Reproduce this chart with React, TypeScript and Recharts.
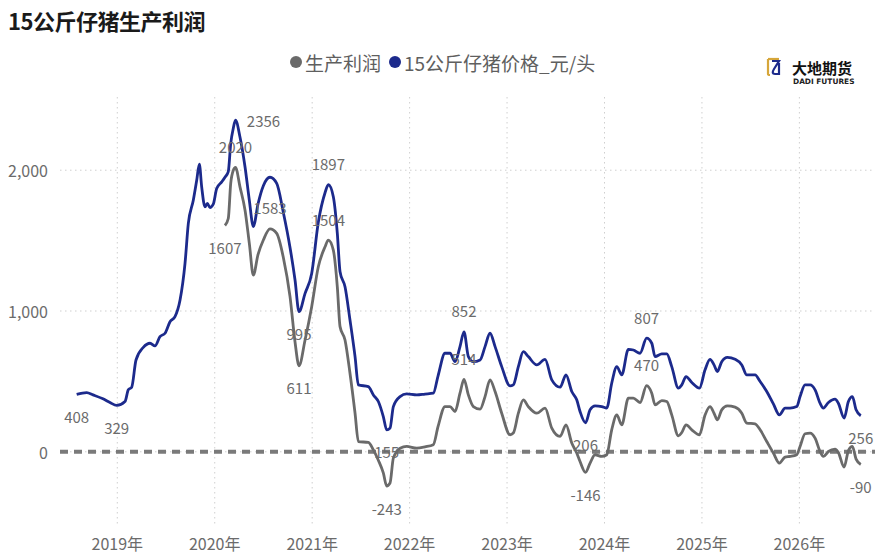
import React from 'react';
import { LineChart, Line, XAxis, YAxis, CartesianGrid, ReferenceLine, LabelList } from 'recharts';

// time axis in decimal years (weekly series, sampled)
const dates = [
  2018.583, 2018.686, 2018.751, 2018.853, 2018.925, 2018.994, 2019.079, 2019.113, 2019.148, 2019.192,
  2019.267, 2019.336, 2019.387, 2019.438, 2019.490, 2019.541, 2019.592, 2019.644, 2019.695, 2019.729,
  2019.780, 2019.815, 2019.842, 2019.866, 2019.900, 2019.924, 2019.951, 2019.985, 2020.020, 2020.072,
  2020.105, 2020.139, 2020.164, 2020.191, 2020.213, 2020.259, 2020.311, 2020.355, 2020.396, 2020.444,
  2020.499, 2020.567, 2020.636, 2020.704, 2020.773, 2020.824, 2020.865, 2020.927, 2020.995, 2021.063,
  2021.132, 2021.166, 2021.217, 2021.258, 2021.286, 2021.337, 2021.388, 2021.440, 2021.474, 2021.576,
  2021.628, 2021.679, 2021.730, 2021.765, 2021.799, 2021.833, 2021.902, 2021.970, 2022.073, 2022.158,
  2022.243, 2022.292, 2022.363, 2022.415, 2022.466, 2022.517, 2022.558, 2022.603, 2022.654, 2022.723,
  2022.774, 2022.825, 2022.877, 2022.945, 2023.031, 2023.064, 2023.116, 2023.167, 2023.218, 2023.305,
  2023.390, 2023.459, 2023.544, 2023.605, 2023.664, 2023.715, 2023.749, 2023.805, 2023.852, 2023.903,
  2023.972, 2024.023, 2024.074, 2024.126, 2024.177, 2024.245, 2024.296, 2024.365, 2024.432, 2024.485,
  2024.519, 2024.588, 2024.639, 2024.690, 2024.758, 2024.793, 2024.837, 2024.896, 2024.974, 2025.032,
  2025.083, 2025.124, 2025.158, 2025.203, 2025.261, 2025.340, 2025.409, 2025.460, 2025.545, 2025.597,
  2025.665, 2025.733, 2025.795, 2025.853, 2025.904, 2025.973, 2026.007, 2026.058, 2026.110, 2026.161,
  2026.212, 2026.246, 2026.298, 2026.366, 2026.400, 2026.459, 2026.503, 2026.544, 2026.582, 2026.630,
];

// 15公斤仔猪价格_元/头
const pigletPrice = [
  408, 420, 404, 376, 350, 329, 357, 440, 459, 652,
  742, 771, 752, 818, 842, 924, 960, 1078, 1338, 1622,
  1787, 1929, 2043, 1882, 1740, 1764, 1735, 1759, 1870, 1917,
  1950, 1990, 2189, 2300, 2356, 2236, 2023, 1787, 1600, 1760,
  1890, 1950, 1906, 1700, 1450, 1220, 995, 1125, 1267, 1630,
  1840, 1897, 1811, 1551, 1279, 1172, 936, 676, 475, 463,
  404, 357, 250, 155, 168, 321, 392, 411, 404, 410,
  416, 540, 700, 700, 640, 747, 852, 676, 640, 652,
  747, 842, 747, 605, 468, 475, 605, 711, 676, 617,
  657, 511, 459, 546, 428, 369, 286, 206, 298, 326,
  321, 310, 487, 605, 546, 728, 723, 700, 807, 771,
  676, 695, 695, 605, 452, 475, 534, 492, 452, 582,
  657, 617, 570, 640, 671, 657, 617, 546, 546, 499,
  428, 340, 262, 310, 310, 321, 392, 475, 475, 440,
  345, 310, 350, 374, 345, 239, 357, 392, 298, 256,
];

// 生产利润
const profit = [
  null, null, null, null, null, null, null, null, null, null,
  null, null, null, null, null, null, null, null, null, null,
  null, null, null, null, null, null, null, null, null, null,
  1607, 1657, 1906, 2000, 2020, 1882, 1716, 1480, 1255, 1400,
  1504, 1583, 1551, 1380, 1100, 780, 611, 794, 1031, 1314,
  1456, 1504, 1433, 1172, 889, 794, 558, 274, 73, 66,
  14, -60, -150, -243, -222, -45, 26, 38, 26, 35,
  50, 180, 321, 321, 286, 416, 514, 404, 321, 303,
  392, 511, 428, 274, 121, 133, 274, 369, 321, 274,
  310, 168, 109, 191, 62, -9, -69, -146, -80, -21,
  -33, -21, 156, 262, 191, 381, 381, 350, 470, 416,
  333, 364, 357, 262, 113, 137, 191, 156, 121, 262,
  321, 274, 227, 298, 326, 317, 274, 204, 199, 156,
  73, -9, -80, -38, -33, -21, 38, 128, 133, 97,
  2, -33, 2, 19, -5, -109, 9, 38, -52, -90,
];

const yearTicks = [2019, 2020, 2021, 2022, 2023, 2024, 2025, 2026];
const yearLabels = ['2019年', '2020年', '2021年', '2022年', '2023年', '2024年', '2025年', '2026年'];
const valueTicks = [0, 1000, 2000];
const valueLabels = ['0', '1,000', '2,000'];

// annotated points (date -> where the label goes)
const priceNotes: Record<string, string> = {
  '2018.583': 'below', '2018.994': 'below', '2020.213': 'right', '2020.865': 'below',
  '2021.166': 'above', '2021.765': 'below', '2022.558': 'above', '2023.805': 'below',
  '2024.432': 'above', '2026.63': 'below',
};
const profitNotes: Record<string, string> = {
  '2020.105': 'below', '2020.213': 'above', '2020.567': 'above', '2020.865': 'below',
  '2021.166': 'above', '2021.765': 'below', '2022.558': 'above', '2023.805': 'below',
  '2024.432': 'above', '2026.63': 'below',
};

const NAVY = '#1c2a8c';
const GRAY = '#6a6a6a';
const TEXT = '#6b6b6b';
const FONT = '"Noto Sans CJK SC", "Noto Sans", sans-serif';

const rows = dates.map((t, i) => ({ t, price: pigletPrice[i], profit: profit[i] }));

function makeNote(notes: Record<string, string>) {
  return (props: any) => {
    const { x, y, value, index } = props;
    if (value == null || x == null || y == null) return null;
    const pos = notes[String(dates[index])];
    if (!pos) return null;
    let dx = 0;
    let dy = 0;
    if (pos === 'above') dy = -21;
    if (pos === 'below') dy = 22;
    if (pos === 'right') dx = 28;
    return (
      <text
        key={`n-${index}`}
        x={x + dx}
        y={y + dy}
        textAnchor="middle"
        dominantBaseline="central"
        fill={TEXT}
        fontSize={15}
        fontFamily={FONT}
      >
        {value}
      </text>
    );
  };
}

const XTick = (props: any) => {
  const { x, payload } = props;
  const i = yearTicks.indexOf(payload.value);
  return (
    <text x={x} y={543} textAnchor="middle" dominantBaseline="central" fill={TEXT} fontSize={16} fontFamily={FONT}>
      {yearLabels[i]}
    </text>
  );
};

const YTick = (props: any) => {
  const { y, payload } = props;
  const i = valueTicks.indexOf(payload.value);
  return (
    <text x={48} y={y} textAnchor="end" dominantBaseline="central" fill={TEXT} fontSize={16} fontFamily={FONT}>
      {valueLabels[i]}
    </text>
  );
};

const Logo = () => (
  <svg width={100} height={34} style={{ position: 'absolute', left: 762, top: 54 }}>
    <path d="M6 5 L6 20 Q6 21 8 21" stroke="#d6a63a" strokeWidth={2.2} fill="none" />
    <path d="M6 5 L17 5" stroke="#d6a63a" strokeWidth={2.2} fill="none" />
    <path d="M10 7 L17 7 L12 15 Q9 20 13 20 L17 20 L17 9" stroke={NAVY} strokeWidth={2.2} fill="none" />
    <text x={30} y={13} fontSize={15} fontWeight={700} fill="#111" fontFamily={FONT} dominantBaseline="central">
      大地期货
    </text>
    <text x={31} y={27} fontSize={7.4} fontWeight={700} fill="#222" fontFamily="DejaVu Sans, sans-serif" dominantBaseline="central">
      DADI FUTURES
    </text>
  </svg>
);

export default function App() {
  return (
    <div style={{ position: 'relative', width: 878, height: 556, background: '#fff', fontFamily: FONT }}>
      <style>{'body{margin:0}'}</style>
      <div style={{ position: 'absolute', left: 8, top: 4, fontSize: 22, fontWeight: 700, color: '#1a1a1a', letterSpacing: -0.5 }}>
        15公斤仔猪生产利润
      </div>
      <div
        style={{
          position: 'absolute',
          left: 290,
          top: 50,
          height: 24,
          display: 'flex',
          alignItems: 'center',
          fontSize: 19,
          color: '#5f5f5f',
          whiteSpace: 'nowrap',
        }}
      >
        <span style={{ width: 12, height: 12, borderRadius: 6, background: GRAY, display: 'inline-block', marginRight: 3 }} />
        <span style={{ marginRight: 8 }}>生产利润</span>
        <span style={{ width: 12, height: 12, borderRadius: 6, background: NAVY, display: 'inline-block', marginRight: 3 }} />
        <span>15公斤仔猪价格_元/头</span>
      </div>
      <Logo />
      <div style={{ position: 'absolute', left: 0, top: 0 }}>
        <LineChart width={878} height={556} data={rows} margin={{ top: 97, right: 3, left: 8, bottom: 0 }}>
          <CartesianGrid stroke="#cfcfcf" strokeDasharray="1.5 3.5" syncWithTicks />
          <XAxis
            dataKey="t"
            type="number"
            domain={[2018.412, 2026.776]}
            ticks={yearTicks}
            allowDataOverflow
            axisLine={false}
            tickLine={false}
            height={31}
            tick={<XTick />}
          />
          <YAxis
            domain={[-520, 2520]}
            ticks={valueTicks}
            allowDataOverflow
            axisLine={false}
            tickLine={false}
            width={52}
            tick={<YTick />}
          />
          <ReferenceLine y={0} stroke="#7a7a7a" strokeWidth={4} strokeDasharray="8 6" />
          <Line
            dataKey="profit"
            stroke={GRAY}
            strokeWidth={2.8}
            dot={false}
            type="monotone"
            isAnimationActive={false}
            connectNulls={false}
          >
            <LabelList dataKey="profit" content={makeNote(profitNotes)} />
          </Line>
          <Line dataKey="price" stroke={NAVY} strokeWidth={2.8} dot={false} type="monotone" isAnimationActive={false}>
            <LabelList dataKey="price" content={makeNote(priceNotes)} />
          </Line>
        </LineChart>
      </div>
    </div>
  );
}
